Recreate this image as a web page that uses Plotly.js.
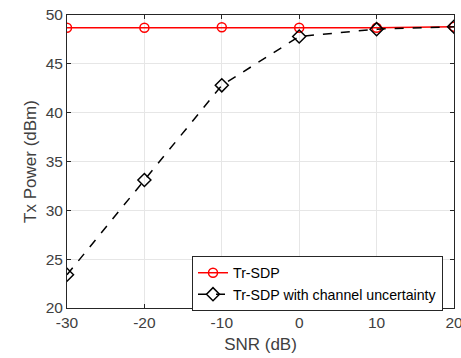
<!DOCTYPE html>
<html><head><meta charset="utf-8">
<script src="https://cdn.plot.ly/plotly-3.0.1.min.js"></script>
<style>body{margin:0;background:#fff}#c{width:461px;height:358px}</style>
</head><body><div id="c"></div>
<script>
const snr = [-30, -20, -10, 0, 10, 20];
const trSdp = [48.7, 48.7, 48.75, 48.7, 48.7, 48.8];
const trSdpUnc = [23.4, 33.1, 42.8, 47.8, 48.55, 48.8];
const xTicks = [-30, -20, -10, 0, 10, 20];
const xTickText = ['-30', '-20', '-10', '0', '10', '20'];
const yTicks = [20, 25, 30, 35, 40, 45, 50];

const FONT = 'Liberation Sans, Arial, sans-serif';
const axisCommon = {
  showline: true, linecolor: '#262626', linewidth: 1, mirror: 'ticks',
  ticks: 'inside', ticklen: 4, tickcolor: '#262626',
  showgrid: true, gridcolor: '#e6e6e6', gridwidth: 1, zeroline: false,
  ticklabeloverflow: 'allow',
  tickfont: {family: FONT, size: 15.5, color: '#404040'}
};

Plotly.newPlot('c', [
  {x: snr, y: trSdp, name: 'Tr-SDP', mode: 'lines+markers',
   line: {color: '#ff0000', width: 1.5},
   marker: {symbol: 'circle-open', size: 9, color: '#ff0000', line: {width: 1.5}}},
  {x: snr, y: trSdpUnc, name: 'Tr-SDP with channel uncertainty', mode: 'lines+markers',
   line: {color: '#000000', width: 1.5, dash: 'dash'},
   marker: {symbol: 'diamond-open', size: 10, color: '#000000', line: {width: 1.5}}}
], {
  width: 461, height: 358,
  margin: {l: 67, r: 7, t: 15, b: 50},
  paper_bgcolor: '#fff', plot_bgcolor: '#fff',
  showlegend: true,
  legend: {x: 0.323, y: 0.1775, xanchor: 'left', yanchor: 'top',
    bgcolor: '#fff', bordercolor: '#262626', borderwidth: 1,
    font: {family: FONT, size: 14.2, color: '#000'},
    tracegroupgap: 0, itemwidth: 30},
  xaxis: Object.assign({}, axisCommon, {range: [-30, 20], tickvals: xTicks, ticktext: xTickText,
    title: {text: 'SNR (dB)', standoff: 8, font: {family: FONT, size: 17, color: '#404040'}}}),
  yaxis: Object.assign({}, axisCommon, {range: [20, 50], tickvals: yTicks,
    title: {text: 'Tx Power (dBm)', standoff: 4, font: {family: FONT, size: 17, color: '#404040'}}})
}, {displayModeBar: false, staticPlot: true});
</script></body></html>
